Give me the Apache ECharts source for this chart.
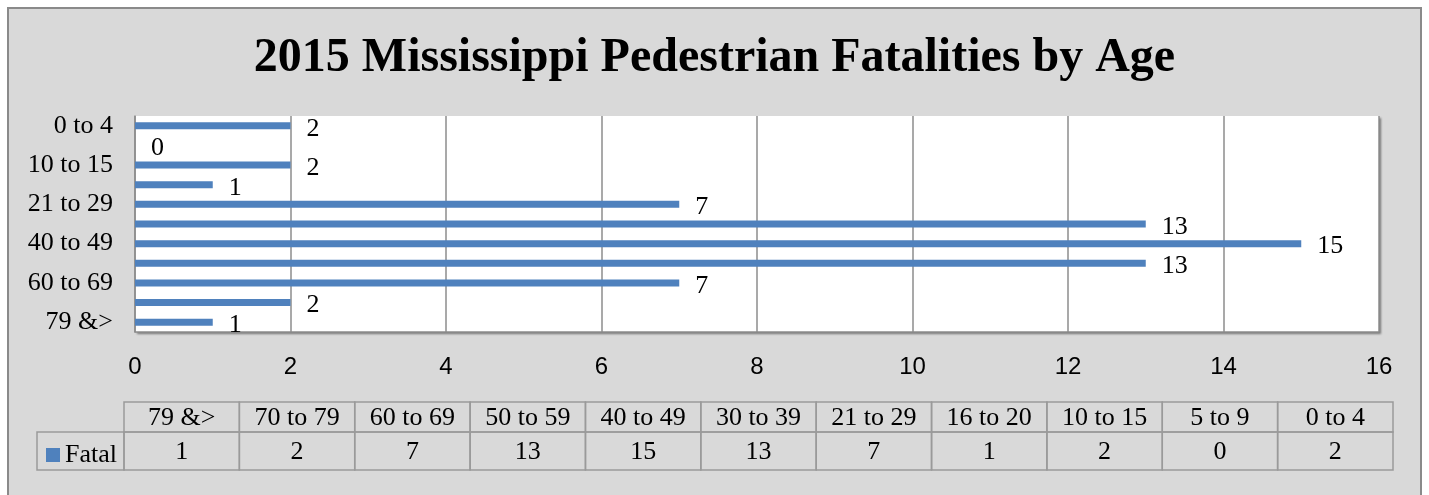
<!DOCTYPE html>
<html>
<head>
<meta charset="utf-8">
<script src="https://cdn.jsdelivr.net/npm/echarts@6/dist/echarts.min.js"></script>
<style>
  html, body { margin: 0; padding: 0; width: 1429px; height: 495px; overflow: hidden; background: #ffffff; }
  #frame { position: absolute; left: 7px; top: 7px; width: 1411px; height: 600px; border: 2px solid #8a8a8a; background: #d9d9d9; }
  #chart { position: absolute; left: 0; top: 0; width: 1429px; height: 495px; }
</style>
</head>
<body>
<div id="frame"></div>
<div id="chart"></div>
<script>
// Age groups, top to bottom in the bar chart
const categories = ['0 to 4', '5 to 9', '10 to 15', '16 to 20', '21 to 29', '30 to 39', '40 to 49', '50 to 59', '60 to 69', '70 to 79', '79 &>'];
// Pedestrian fatalities per age group
const fatal = [2, 0, 2, 1, 7, 13, 15, 13, 7, 2, 1];
// Horizontal axis ticks
const xMin = 0;
const xMax = 16;
const xStep = 2;
// The data table lists the groups oldest first
const tableCats = categories.slice().reverse();
const tableVals = fatal.slice().reverse();

const SERIF = '"Liberation Serif", "Times New Roman", serif';
const SANS = '"Liberation Sans", Arial, sans-serif';
const BAR = '#4f81bd';
const LINE = '#9a9a9a';
const TXT = 26;

const chart = echarts.init(document.getElementById('chart'), null, { renderer: 'canvas' });

function cellRect(api, idx) {
  const c = api.coord([idx, 0]);
  const s = api.size([1, 1]);
  return { x: c[0] - s[0] / 2, y: c[1] - s[1] / 2, width: s[0], height: s[1] };
}

function cellChildren(r, text) {
  return [
    { type: 'rect', shape: r, style: { fill: 'transparent', stroke: LINE, lineWidth: 1.5 } },
    { type: 'text', style: { x: r.x + r.width / 2, y: r.y + r.height / 2 + 1, text: String(text),
        align: 'center', verticalAlign: 'middle', font: TXT + 'px ' + SERIF, fill: '#000' } }
  ];
}

const option = {
  backgroundColor: 'transparent',
  animation: false,
  title: {
    text: '2015 Mississippi Pedestrian Fatalities by Age',
    left: 'center',
    top: 30,
    textStyle: { fontFamily: SERIF, fontSize: 48, fontWeight: 'bold', color: '#000' }
  },
  legend: {
    data: ['Fatal'],
    left: 41,
    top: 437,
    icon: 'rect',
    itemWidth: 14,
    itemHeight: 14,
    itemGap: 4,
    selectedMode: false,
    textStyle: { fontFamily: SERIF, fontSize: TXT, color: '#000' }
  },
  grid: [
    { left: 135, right: 50, top: 116, height: 216, show: true, backgroundColor: '#ffffff', borderWidth: 0,
      shadowColor: 'rgba(0,0,0,0.45)', shadowBlur: 2, shadowOffsetX: 2, shadowOffsetY: 2 },
    { left: 124, right: 36, top: 402, height: 30 },
    { left: 124, right: 36, top: 432, height: 38 }
  ],
  xAxis: [
    { type: 'value', gridIndex: 0, min: xMin, max: xMax, interval: xStep,
      axisLine: { show: true, lineStyle: { color: '#8c8c8c', width: 1.5 } },
      axisTick: { show: false },
      splitLine: { show: true, lineStyle: { color: '#8c8c8c', width: 1.5 } },
      axisLabel: { fontFamily: SANS, fontSize: 24, color: '#000', margin: 23 } },
    { type: 'category', gridIndex: 1, data: tableCats, show: false },
    { type: 'category', gridIndex: 2, data: tableCats, show: false }
  ],
  yAxis: [
    { type: 'category', gridIndex: 0, data: categories, inverse: true,
      axisLine: { show: true, lineStyle: { color: '#8c8c8c', width: 1.5 } },
      axisTick: { show: false },
      axisLabel: { interval: 1, fontFamily: SERIF, fontSize: TXT, color: '#000', margin: 22, padding: [4, 0, 0, 0] } },
    { type: 'category', gridIndex: 1, data: ['header'], show: false },
    { type: 'category', gridIndex: 2, data: ['Fatal'], show: false }
  ],
  series: [
    {
      name: 'Fatal',
      type: 'bar',
      xAxisIndex: 0, yAxisIndex: 0,
      data: fatal,
      barWidth: 7,
      itemStyle: { color: BAR },
      label: { show: true, position: 'right', distance: 16, offset: [0, 3], fontFamily: SERIF, fontSize: TXT, color: '#000' }
    },
    {
      name: 'header',
      type: 'custom',
      xAxisIndex: 1, yAxisIndex: 1,
      data: tableCats.map((c, i) => [i, 0]),
      renderItem: function (params, api) {
        const r = cellRect(api, api.value(0));
        return { type: 'group', children: cellChildren(r, tableCats[params.dataIndex]) };
      }
    },
    {
      name: 'values',
      type: 'custom',
      xAxisIndex: 2, yAxisIndex: 2,
      data: tableVals.map((v, i) => [i, 0]),
      renderItem: function (params, api) {
        const r = cellRect(api, api.value(0));
        const children = cellChildren(r, tableVals[params.dataIndex]);
        if (params.dataIndex === 0) {
          // series-name cell to the left of the first column
          const w = 87;
          children.push({ type: 'rect', shape: { x: r.x - w, y: r.y, width: w, height: r.height },
            style: { fill: 'transparent', stroke: LINE, lineWidth: 1.5 } });
        }
        return { type: 'group', children: children };
      }
    }
  ]
};

chart.setOption(option);
</script>
</body>
</html>
